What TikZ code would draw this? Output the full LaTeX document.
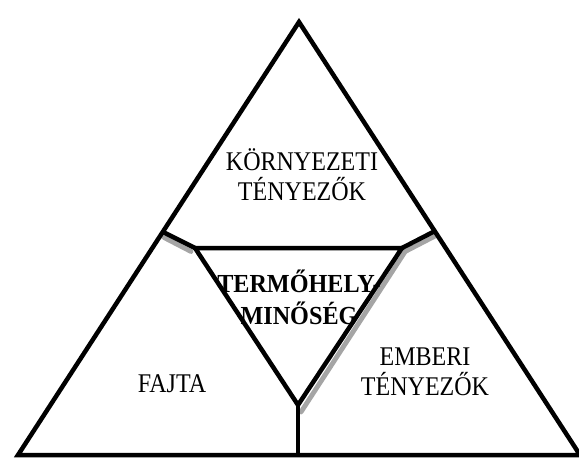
\documentclass[tikz,border=0pt]{standalone}
\usepackage{fontspec}
\setmainfont{Liberation Serif}
\newfontfamily\sectorfont[FakeStretch=0.89]{Liberation Serif}
\newfontfamily\corefont[FakeStretch=0.93]{Liberation Serif}
\usetikzlibrary{positioning}
\definecolor{shadowgray}{RGB}{165,165,165}
\tikzstyle{frameline} = [draw=black, line width=4.5pt, line join=miter]
\tikzstyle{shadowline} = [draw=shadowgray, line width=4.8pt, line cap=round]
\tikzstyle{sectortext} = [align=center, inner sep=0pt, font=\sectorfont\fontsize{27}{30}\selectfont]
\tikzstyle{coretext} = [align=center, inner sep=0pt, font=\corefont\fontsize{26}{32}\selectfont\bfseries]

\begin{document}
\begin{tikzpicture}[x=1pt, y=-1pt]
    \useasboundingbox (0,0) rectangle (579,459);

    % Outer triangle
    \coordinate (apex) at (299,22);
    \coordinate (leftcorner) at (18,455);
    \coordinate (rightcorner) at (580,455);
    \coordinate (leftjoin) at (163,232);
    \coordinate (rightjoin) at (435,231);
    \coordinate (basejoin) at (298,455);

    % Inner triangle
    \coordinate (innerleft) at (195,248);
    \coordinate (innerright) at (402,248);
    \coordinate (innerbottom) at (298,405);

    % Shadows under the inner lines
    \coordinate (shadowleftA) at (164,237.5);
    \coordinate (shadowleftB) at (191,251.5);
    \coordinate (shadowrightA) at (437,235);
    \coordinate (shadowcorner) at (405.2,251.5);
    \coordinate (shadowbottom) at (301,412);
    \draw[shadowline] (shadowleftA) -- (shadowleftB);
    \draw[shadowline] (shadowrightA) -- (shadowcorner) -- (shadowbottom);

    % Lines
    \draw[frameline] (apex) -- (rightcorner) -- (leftcorner) -- cycle;
    \draw[frameline] (innerleft) -- (innerright) -- (innerbottom) -- cycle;
    \draw[frameline] (leftjoin) -- (innerleft);
    \draw[frameline] (innerright) -- (rightjoin);
    \draw[frameline] (innerbottom) -- (basejoin);

    % Labels
    \node[sectortext] (environment) at (302,175) {KÖRNYEZETI\\TÉNYEZŐK};
    \node[sectortext] (variety) at (172,384) {FAJTA};
    \node[sectortext] (human) at (425,372) {EMBERI\\TÉNYEZŐK};
    \node[coretext] (site) at (299,297) {TERMŐHELY-\\MINŐSÉG};
\end{tikzpicture}
\end{document}
